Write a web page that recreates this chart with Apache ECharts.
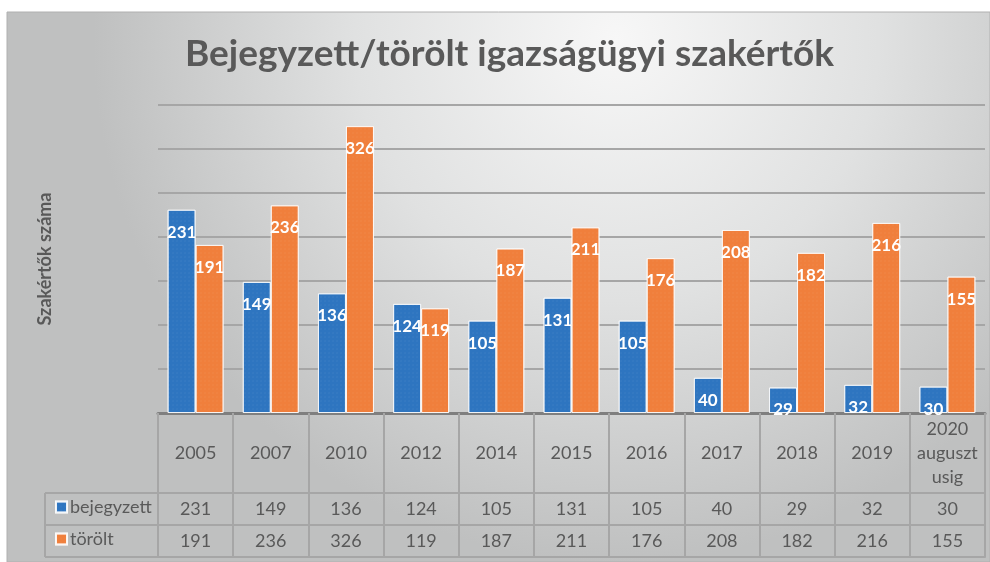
<!DOCTYPE html>
<html><head><meta charset="utf-8">
<script src="https://cdn.jsdelivr.net/npm/echarts@6/dist/echarts.min.js"></script>
<style>html,body{margin:0;padding:0;background:#fff}#c{width:990px;height:562px}</style>
</head><body><div id="c"></div>
<script>
const categories = ['2005','2007','2010','2012','2014','2015','2016','2017','2018','2019','2020\nauguszt\nusig'];
const bejegyzett = [231,149,136,124,105,131,105,40,29,32,30];
const torolt = [191,236,326,119,187,211,176,208,182,216,155];
const seriesNames = ['bejegyzett','törölt'];
const yTicks = {min:0, max:350, interval:50};

const FONT = 'Lato, "Open Sans", sans-serif';
const TXT = '#595959';
const TBL = '#a6a6a6';
const chart = echarts.init(document.getElementById('c'));
const G = {left:158, right:5, top:105, bottom:149};

function valueAxis(off, arr){
  return {
    type:'category', data:categories, position:'bottom', offset:off, gridIndex:0,
    axisLine:{show:true, lineStyle:{color:TBL, width:2}},
    axisTick:{show:false},
    axisLabel:{show:arr!==null, interval:0, hideOverlap:false, margin:16, verticalAlign:'middle', color:TXT, fontSize:18, fontFamily:FONT,
      formatter:(v,i)=> arr ? String(arr[i]) : ''},
  };
}

const option = {
  animation:false,
  textStyle:{fontFamily:FONT},
  graphic:[
    {type:'rect', z:-10, silent:true, shape:{x:7,y:12,width:983,height:550},
     style:{fill:new echarts.graphic.RadialGradient(0.62,0.05,0.95,[{offset:0,color:'#f7f7f7'},{offset:0.5,color:'#e0e1e1'},{offset:1,color:'#bfc0c0'}]),
            stroke:'#b0b0b0', lineWidth:1}},
    {type:'line', shape:{x1:45,y1:493,x2:158,y2:493}, style:{stroke:TBL,lineWidth:2}},
    {type:'line', shape:{x1:45,y1:525,x2:158,y2:525}, style:{stroke:TBL,lineWidth:2}},
    {type:'line', shape:{x1:45,y1:557,x2:158,y2:557}, style:{stroke:TBL,lineWidth:2}},
    {type:'line', shape:{x1:45,y1:493,x2:45,y2:557}, style:{stroke:TBL,lineWidth:2}}
  ],
  title:{text:'Bejegyzett/törölt igazságügyi szakértők', left:180, top:31,
    textStyle:{fontSize:37, fontWeight:'bold', color:TXT, fontFamily:FONT}},
  legend:{orient:'vertical', left:50, top:492, itemGap:12, itemWidth:11, itemHeight:11, icon:'rect',
    data:seriesNames, textStyle:{color:TXT, fontSize:18, lineHeight:20, height:20, fontFamily:FONT, padding:[0,0,0,-2]}},
  grid:{left:G.left, right:G.right, top:G.top, bottom:G.bottom, containLabel:false},
  xAxis:[
    {type:'category', data:categories, position:'bottom',
     axisLine:{show:true, lineStyle:{color:'#7f7f7f', width:3}},
     axisTick:{show:true, interval:0, length:144, lineStyle:{color:TBL, width:2}},
     axisLabel:{interval:0, hideOverlap:false, margin:40, verticalAlign:'middle', lineHeight:24, color:TXT, fontSize:18, fontFamily:FONT}},
    valueAxis(80, bejegyzett),
    valueAxis(112, torolt),
    valueAxis(144, null)
  ],
  yAxis:{type:'value', min:yTicks.min, max:yTicks.max, interval:yTicks.interval,
    name:'Szakértők száma', nameLocation:'middle', nameGap:104, nameRotate:90,
    nameTextStyle:{fontSize:18, fontWeight:'bold', color:TXT, fontFamily:FONT},
    axisLabel:{show:false}, axisLine:{show:false}, axisTick:{show:false},
    splitLine:{lineStyle:{color:'#a6a6a6', width:2}}},
  series:[
    {name:seriesNames[0], type:'bar', data:bejegyzett, barWidth:28, barGap:'0%',
     itemStyle:{color:'#2e75c0', borderColor:'rgba(255,255,255,0.7)', borderWidth:1,
       decal:{symbol:'rect', symbolSize:0.5, dashArrayX:[2,2], dashArrayY:[2,2], color:'rgba(255,255,255,0.12)'}},
     label:{show:true, position:'insideTop', distance:14, color:'#fff', fontWeight:'bold', fontSize:17, fontFamily:FONT}},
    {name:seriesNames[1], type:'bar', data:torolt, barWidth:28,
     itemStyle:{color:'#f07f3c', borderColor:'rgba(255,255,255,0.7)', borderWidth:1,
       decal:{symbol:'rect', symbolSize:0.5, dashArrayX:[2,2], dashArrayY:[2,2], color:'rgba(255,255,255,0.12)'}},
     label:{show:true, position:'insideTop', distance:14, color:'#fff', fontWeight:'bold', fontSize:17, fontFamily:FONT}}
  ]
};
chart.setOption(option);
</script></body></html>
